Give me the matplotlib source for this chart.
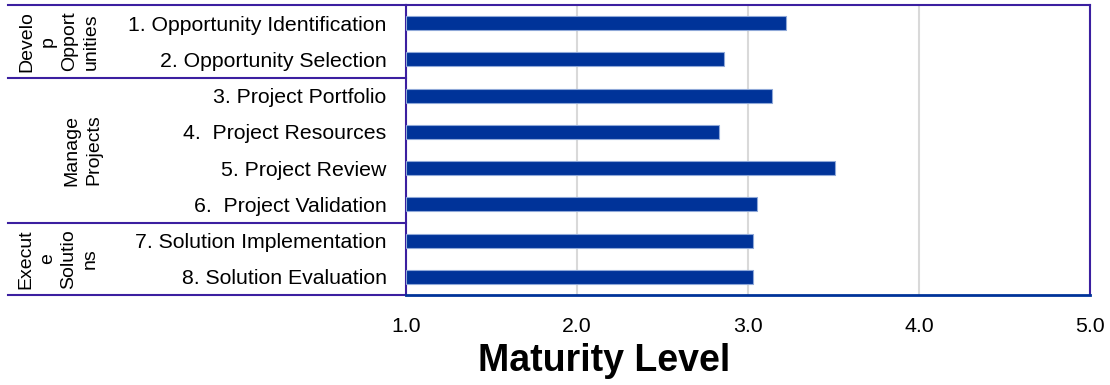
import numpy as np
import matplotlib
matplotlib.use('Agg')
import matplotlib.pyplot as plt
import matplotlib.transforms as mtransforms

plt.rcParams['font.family'] = ['Liberation Sans', 'DejaVu Sans']

# data
labels = ['1. Opportunity Identification', '2. Opportunity Selection',
          '3. Project Portfolio', '4.  Project Resources', '5. Project Review',
          '6.  Project Validation', '7. Solution Implementation',
          '8. Solution Evaluation']
values = [3.22, 2.86, 3.14, 2.83, 3.51, 3.05, 3.03, 3.03]
groups = ['Develo\np\nOpport\nunities', 'Manage\nProjects', 'Execut\ne\nSolutio\nns']
group_bounds = [(-0.5, 1.5), (1.5, 5.5), (5.5, 7.5)]
xticks = [1.0, 2.0, 3.0, 4.0, 5.0]

frame_col = '#3b1fa0'
bar_col = '#003399'

fig = plt.figure(figsize=(11.1, 3.85), dpi=100)
ax = fig.add_axes([406/1110, 90/385, 684/1110, 290/385])

y = np.arange(len(labels))
ax.barh(y, np.array(values) - 1.0, left=1.0, height=0.38, color=bar_col,
        edgecolor='#8fa8d8', linewidth=0.8, zorder=3)

ax.set_xlim(1.0, 5.0)
ax.set_ylim(7.5, -0.5)
ax.set_xticks(xticks)
ax.set_xticklabels(['%.1f' % t for t in xticks])
ax.set_yticks(y)
ax.set_yticklabels(labels)
ax.tick_params(axis='y', length=0, pad=14, labelsize=15.3)
ax.tick_params(axis='x', length=0, pad=16, labelsize=15.3)
ax.xaxis.grid(True, color='#d9d9d9', linewidth=1.5, zorder=0)
ax.set_axisbelow(True)

for s in ['top', 'left', 'right']:
    ax.spines[s].set_color(frame_col)
    ax.spines[s].set_linewidth(1.5)
ax.spines['bottom'].set_color(bar_col)
ax.spines['bottom'].set_linewidth(2)

# group separator lines to the left of the axes
trans = mtransforms.blended_transform_factory(ax.transAxes, ax.transData)
x0 = (8 - 406) / 684
for yy in [-0.5, 1.5, 5.5, 7.5]:
    ax.plot([x0, 0], [yy, yy], color=frame_col, lw=1.5, transform=trans,
            clip_on=False)

# group labels
gx = [59, 83, 58]
for g, (a, b), xx in zip(groups, group_bounds, gx):
    yc = (a + b) / 2
    ypix = 5 + 290 * (yc + 0.5) / 8
    fig.text(xx / 1110, 1 - ypix / 385, g, rotation=90, ha='center',
             va='center', fontsize=14, multialignment='center',
             linespacing=1.35)

fig.text(604 / 1110, 1 - 361 / 385, 'Maturity Level', ha='center',
         va='center', fontsize=27, fontweight='bold')

fig.savefig('out.png', dpi=100)
